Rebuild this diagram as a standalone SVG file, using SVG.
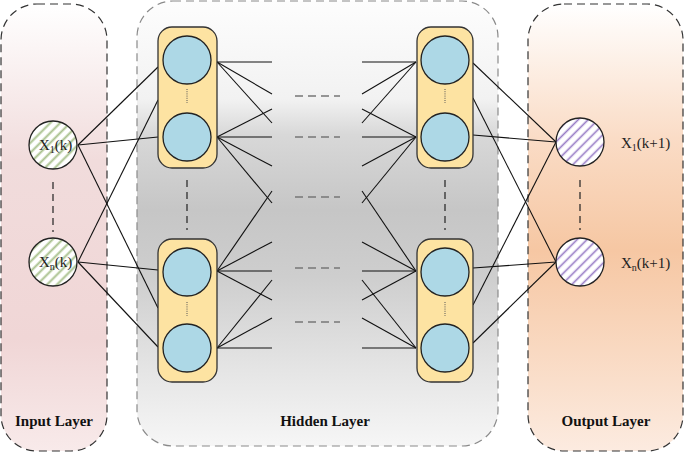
<svg xmlns="http://www.w3.org/2000/svg" width="685" height="453" viewBox="0 0 685 453">
<defs>
<linearGradient id="gIn" x1="0" y1="0" x2="0" y2="1">
<stop offset="0" stop-color="#ffffff"/>
<stop offset="0.35" stop-color="#f1dcdc"/>
<stop offset="0.75" stop-color="#f0d6d6"/>
<stop offset="1" stop-color="#f8eaea"/>
</linearGradient>
<linearGradient id="gOut" x1="0" y1="0" x2="0" y2="1">
<stop offset="0" stop-color="#ffffff"/>
<stop offset="0.3" stop-color="#fadcc6"/>
<stop offset="0.55" stop-color="#f6c7a3"/>
<stop offset="1" stop-color="#fcebe0"/>
</linearGradient>
<linearGradient id="gHid" x1="0" y1="0" x2="0" y2="1">
<stop offset="0" stop-color="#fdfdfd"/>
<stop offset="0.22" stop-color="#f2f2f2"/>
<stop offset="0.3" stop-color="#d8d8d8"/>
<stop offset="0.47" stop-color="#c6c6c6"/>
<stop offset="0.62" stop-color="#cecece"/>
<stop offset="0.82" stop-color="#e4e4e4"/>
<stop offset="1" stop-color="#f6f6f6"/>
</linearGradient>
<pattern id="hatchG" width="7" height="7" patternUnits="userSpaceOnUse" patternTransform="rotate(-45)">
<rect width="7" height="7" fill="#ffffff"/>
<line x1="0" y1="3.5" x2="7" y2="3.5" stroke="#a9c18e" stroke-width="2"/>
</pattern>
<pattern id="hatchP" width="7" height="7" patternUnits="userSpaceOnUse" patternTransform="rotate(-45)">
<rect width="7" height="7" fill="#ffffff"/>
<line x1="0" y1="3.5" x2="7" y2="3.5" stroke="#9478c4" stroke-width="1.6"/>
</pattern>
<style>
.layer{stroke-dasharray:8 5;stroke-width:1.2}
.dark{stroke:#333}
.light{stroke:#8a8a8a}
.box{fill:#fde3a2;stroke:#333;stroke-width:1.3}
.cir{fill:#add8e6;stroke:#222;stroke-width:1.3}
.node{stroke:#222;stroke-width:1.3}
.vd{stroke:#222;stroke-width:1.2;stroke-dasharray:7 5}
.dot{stroke:#555;stroke-width:1;stroke-dasharray:1 1.2}
.hd{stroke:#777;stroke-width:1.6;stroke-dasharray:8 5}
.lbl{font-family:"Liberation Serif",serif;font-size:15px;fill:#222}
.sub{font-size:10px}
.title{font-family:"Liberation Serif",serif;font-size:15px;font-weight:bold;fill:#111;text-anchor:middle}
.c line{stroke:#111;stroke-width:1.1}
</style>
</defs>

<g id="input-layer">
<rect x="1" y="4" width="106" height="447" rx="36" fill="url(#gIn)" class="layer dark"/>
<text class="title" x="54" y="426">Input Layer</text>
</g>
<g id="hidden-layer">
<rect x="137" y="1" width="361" height="445" rx="36" fill="url(#gHid)" class="layer light"/>
<text class="title" x="325" y="426">Hidden Layer</text>
</g>
<g id="output-layer">
<rect x="528" y="4" width="155" height="447" rx="36" fill="url(#gOut)" class="layer dark"/>
<text class="title" x="606" y="426">Output Layer</text>
</g>

<g id="connectors" class="c">
<line x1="78" y1="145" x2="158" y2="67"/>
<line x1="78" y1="145" x2="158" y2="137"/>
<line x1="78" y1="145" x2="158" y2="308"/>
<line x1="78" y1="262" x2="158" y2="100"/>
<line x1="78" y1="262" x2="158" y2="270"/>
<line x1="78" y1="262" x2="158" y2="347"/>
<line x1="217" y1="62" x2="272" y2="62"/>
<line x1="217" y1="62" x2="272" y2="94"/>
<line x1="217" y1="62" x2="272" y2="123"/>
<line x1="217" y1="137" x2="272" y2="109"/>
<line x1="217" y1="137" x2="272" y2="137"/>
<line x1="217" y1="137" x2="272" y2="166"/>
<line x1="217" y1="137" x2="272" y2="203"/>
<line x1="217" y1="271" x2="272" y2="191"/>
<line x1="217" y1="271" x2="272" y2="242"/>
<line x1="217" y1="271" x2="272" y2="271"/>
<line x1="217" y1="271" x2="272" y2="300"/>
<line x1="217" y1="348" x2="272" y2="280"/>
<line x1="217" y1="348" x2="272" y2="318"/>
<line x1="217" y1="348" x2="272" y2="348"/>
<line x1="416" y1="62" x2="362" y2="62"/>
<line x1="416" y1="62" x2="362" y2="94"/>
<line x1="416" y1="62" x2="362" y2="123"/>
<line x1="416" y1="137" x2="362" y2="109"/>
<line x1="416" y1="137" x2="362" y2="137"/>
<line x1="416" y1="137" x2="362" y2="166"/>
<line x1="416" y1="137" x2="362" y2="203"/>
<line x1="416" y1="271" x2="362" y2="191"/>
<line x1="416" y1="271" x2="362" y2="242"/>
<line x1="416" y1="271" x2="362" y2="271"/>
<line x1="416" y1="271" x2="362" y2="300"/>
<line x1="416" y1="348" x2="362" y2="280"/>
<line x1="416" y1="348" x2="362" y2="318"/>
<line x1="416" y1="348" x2="362" y2="348"/>
<line x1="473" y1="63" x2="556" y2="142"/>
<line x1="473" y1="98" x2="556" y2="262"/>
<line x1="473" y1="135" x2="556" y2="142"/>
<line x1="473" y1="268" x2="556" y2="262"/>
<line x1="473" y1="305" x2="556" y2="142"/>
<line x1="473" y1="343" x2="556" y2="262"/>
</g>

<g id="ellipsis">
<line class="hd" x1="295" y1="96" x2="340" y2="96"/>
<line class="hd" x1="295" y1="137" x2="340" y2="137"/>
<line class="hd" x1="295" y1="197" x2="340" y2="197"/>
<line class="hd" x1="295" y1="268" x2="340" y2="268"/>
<line class="hd" x1="295" y1="322" x2="340" y2="322"/>
<line class="vd" x1="53" y1="182" x2="53" y2="232"/>
<line class="vd" x1="187" y1="180" x2="187" y2="230"/>
<line class="vd" x1="445" y1="180" x2="445" y2="230"/>
<line class="vd" x1="580" y1="180" x2="580" y2="230"/>
</g>

<g id="x1k">
<circle class="node" cx="53" cy="145" r="24" fill="url(#hatchG)"/>
<text class="lbl" x="39" y="150">X<tspan class="sub" dy="3">1</tspan><tspan dy="-3">(k)</tspan></text>
</g>
<g id="xnk">
<circle class="node" cx="53" cy="262" r="24" fill="url(#hatchG)"/>
<text class="lbl" x="39" y="267">X<tspan class="sub" dy="3">n</tspan><tspan dy="-3">(k)</tspan></text>
</g>

<g id="hidden-block-1">
<rect class="box" x="158" y="27" width="59" height="141" rx="14"/>
<circle class="cir" cx="187" cy="60" r="24"/>
<circle class="cir" cx="187" cy="137" r="24"/>
<line class="dot" x1="187" y1="89" x2="187" y2="103"/>
</g>
<g id="hidden-block-2">
<rect class="box" x="158" y="239" width="59" height="143" rx="14"/>
<circle class="cir" cx="187" cy="272" r="24"/>
<circle class="cir" cx="187" cy="348" r="24"/>
<line class="dot" x1="187" y1="302" x2="187" y2="316"/>
</g>
<g id="hidden-block-3">
<rect class="box" x="417" y="27" width="56" height="141" rx="14"/>
<circle class="cir" cx="445" cy="60" r="24"/>
<circle class="cir" cx="445" cy="137" r="24"/>
<line class="dot" x1="445" y1="89" x2="445" y2="103"/>
</g>
<g id="hidden-block-4">
<rect class="box" x="417" y="239" width="56" height="143" rx="14"/>
<circle class="cir" cx="445" cy="272" r="24"/>
<circle class="cir" cx="445" cy="348" r="24"/>
<line class="dot" x1="445" y1="302" x2="445" y2="316"/>
</g>

<g id="y1">
<circle class="node" cx="580" cy="142" r="24" fill="url(#hatchP)"/>
<text class="lbl" x="621" y="148">X<tspan class="sub" dy="3">1</tspan><tspan dy="-3">(k+1)</tspan></text>
</g>
<g id="yn">
<circle class="node" cx="580" cy="262" r="24" fill="url(#hatchP)"/>
<text class="lbl" x="621" y="268">X<tspan class="sub" dy="3">n</tspan><tspan dy="-3">(k+1)</tspan></text>
</g>
</svg>
